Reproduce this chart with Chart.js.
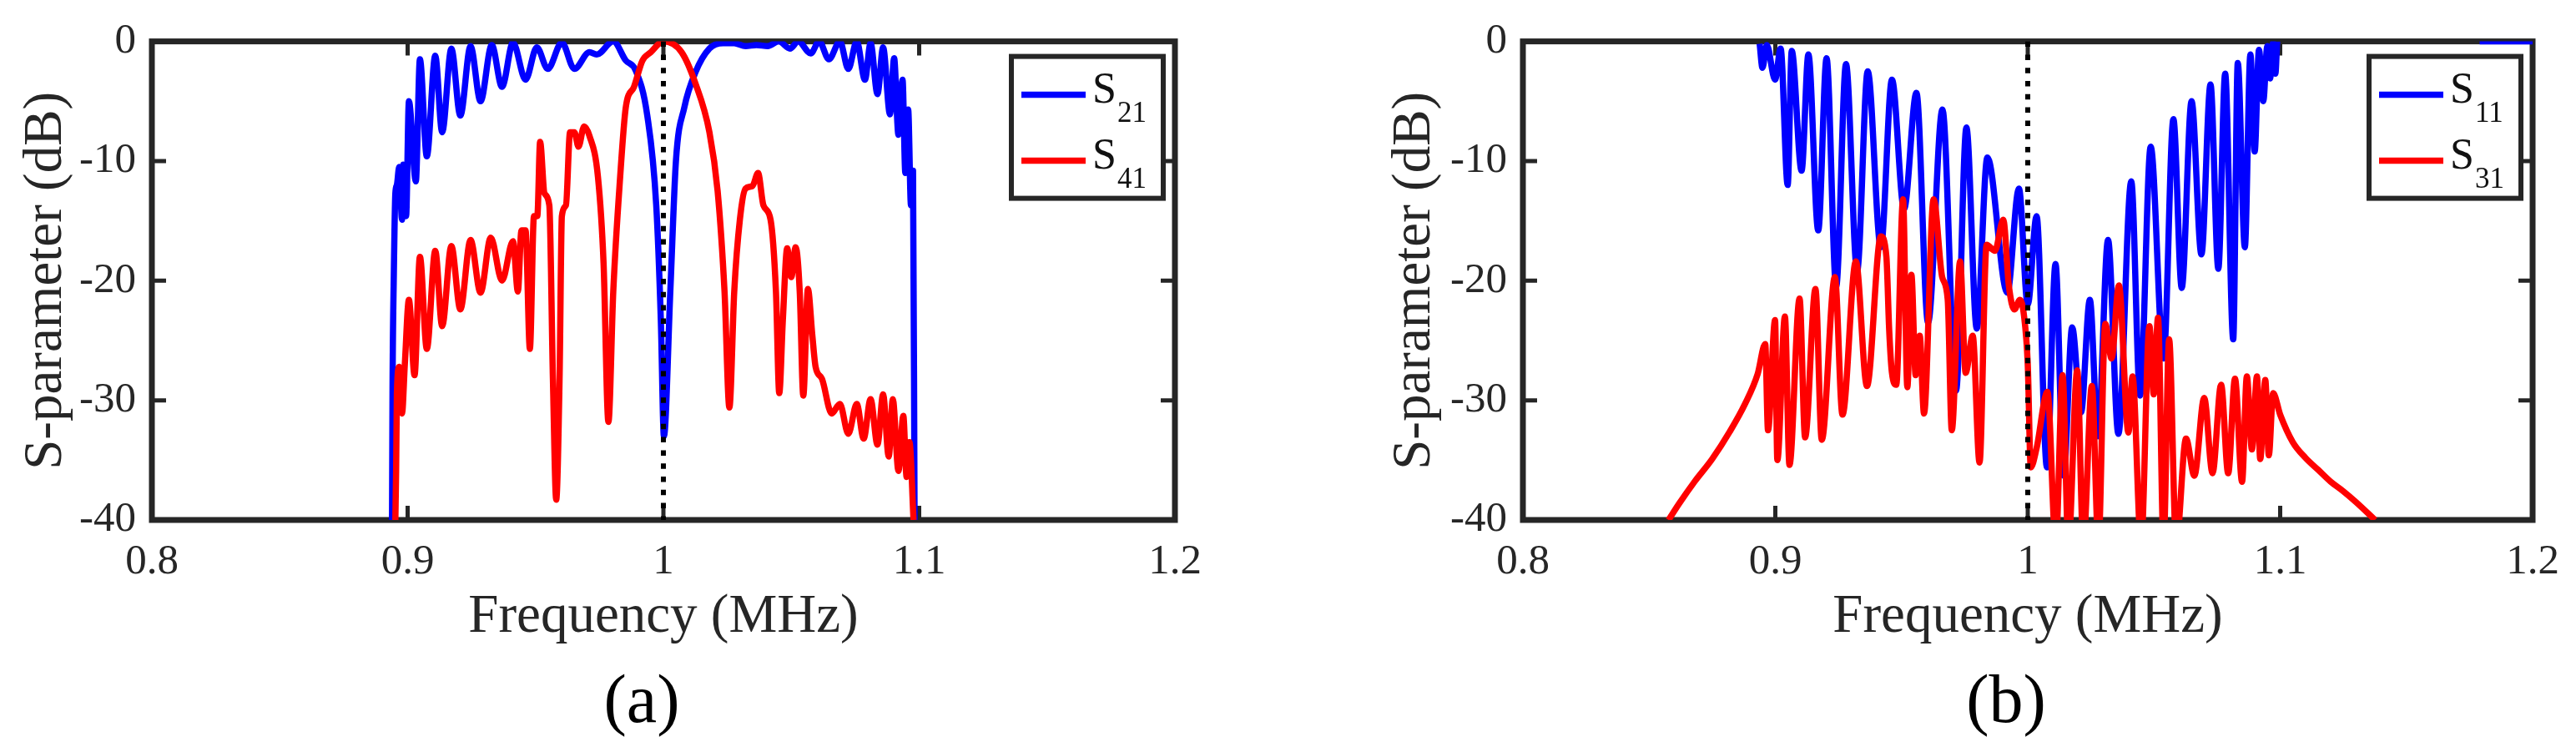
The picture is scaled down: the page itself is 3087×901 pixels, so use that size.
<!DOCTYPE html>
<html>
<head>
<meta charset="utf-8">
<title>S-parameters</title>
<script src="https://cdn.jsdelivr.net/npm/chart.js@4.4.0/dist/chart.umd.min.js"></script>
<style>
  html, body { margin: 0; padding: 0; background: #fff; }
  body { width: 3087px; height: 901px; position: relative; overflow: hidden; }
  canvas { position: absolute; top: 0; }
  .caption {
    position: absolute; top: 797px;
    font-family: 'Liberation Serif', serif; font-size: 82px; line-height: 1;
    color: #000; transform: translateX(-50%); white-space: nowrap;
  }
</style>
</head>
<body>
<canvas id="chartA" width="1543" height="901" style="left:0px"></canvas>
<canvas id="chartB" width="1544" height="901" style="left:1543px"></canvas>
<div class="caption" style="left:769px">(a)</div>
<div class="caption" style="left:2404px">(b)</div>

<script>
// ---- axes ----
const xTickValues = [0.8, 0.9, 1.0, 1.1, 1.2];
const xTickLabels = ['0.8', '0.9', '1', '1.1', '1.2'];
const yTickValues = [0, -10, -20, -30, -40];
const yTickLabels = ['0', '-10', '-20', '-30', '-40'];

// centre frequency marker (dotted line)
const markerFreq = [1.0, 1.0];
const markerLevel = [0, -40];

// ---- panel (a) ----
const freqA21 = [0.8939, 0.8941, 0.8946, 0.8952, 0.8958, 0.8967, 0.8978, 0.8983, 0.8994, 0.9005,
  0.9032, 0.9048, 0.9075, 0.9108, 0.9135, 0.9171, 0.9206, 0.9246, 0.9285, 0.9329,
  0.9369, 0.9412, 0.9461, 0.9505, 0.9548, 0.9603, 0.9652, 0.9711, 0.9739, 0.9804,
  0.9853, 0.9891, 0.9937, 0.9972, 0.9990, 1.0002, 1.0027, 1.0049, 1.0082, 1.0125,
  1.0180, 1.0234, 1.0277, 1.0321, 1.0364, 1.0408, 1.0451, 1.0495, 1.0527, 1.0576,
  1.0609, 1.0647, 1.0690, 1.0723, 1.0756, 1.0788, 1.0810, 1.0837, 1.0859, 1.0886,
  1.0902, 1.0919, 1.0935, 1.0946, 1.0957, 1.0968, 1.0976, 1.0982];
const s21 = [-40, -29, -19.5, -12.7, -12, -10.5, -14.9, -10.3, -14.6, -5.0,
  -11.7, -1.5, -9.6, -1.2, -7.6, -0.6, -6.2, -0.4, -5.0, -0.3,
  -3.8, -0.1, -3.2, -0.5, -2.3, -0.1, -2.3, -0.9, -1.1, 0,
  -1.6, -2.4, -6.2, -13.7, -23.3, -33.0, -20.9, -10.0, -5.5, -2.6,
  -0.6, -0.15, -0.15, -0.4, -0.3, -0.4, 0, -0.6, 0, -1.0,
  0, -1.5, 0, -2.3, 0, -3.2, -0.15, -4.4, -0.5, -6.1,
  -1.4, -7.8, -3.2, -11.0, -5.7, -13.7, -10.8, -40];

const freqA41 = [0.8952, 0.8955, 0.8958, 0.8967, 0.8978, 0.8989, 0.9005, 0.9027, 0.9048, 0.9075,
  0.9108, 0.9135, 0.9171, 0.9206, 0.9246, 0.9285, 0.9325, 0.9369, 0.9412, 0.9431,
  0.9445, 0.9461, 0.9478, 0.9494, 0.9507, 0.9518, 0.9535, 0.9554, 0.9568, 0.9581,
  0.9594, 0.9603, 0.9619, 0.9635, 0.9652, 0.9668, 0.9690, 0.9711, 0.9744, 0.9766,
  0.9785, 0.9804, 0.9831, 0.9853, 0.9885, 0.9918, 0.9951, 1.0000, 1.0071, 1.0125,
  1.0180, 1.0212, 1.0239, 1.0258, 1.0277, 1.0299, 1.0321, 1.0348, 1.0370, 1.0391,
  1.0419, 1.0440, 1.0453, 1.0467, 1.0484, 1.0500, 1.0517, 1.0533, 1.0547, 1.0565,
  1.0582, 1.0595, 1.0620, 1.0658, 1.0690, 1.0723, 1.0756, 1.0783, 1.0810, 1.0837,
  1.0859, 1.0881, 1.0897, 1.0919, 1.0938, 1.0951, 1.0962, 1.0978];
const s41 = [-40, -35.9, -29.4, -27.2, -31.1, -27.0, -21.6, -27.9, -18.0, -25.7,
  -17.5, -23.8, -17.1, -22.4, -16.6, -21.0, -16.4, -20.0, -16.7, -20.9,
  -15.8, -15.8, -25.7, -14.6, -14.6, -8.4, -12.7, -13.7, -28.2, -38.3,
  -28.2, -14.6, -13.7, -7.6, -7.6, -8.8, -7.1, -7.9, -11.3, -18.5,
  -31.8, -20.9, -11.3, -5.5, -3.8, -1.6, -0.9, 0, -0.9, -3.5,
  -7.6, -12.5, -20.9, -30.6, -20.9, -14.9, -12.3, -12.1, -11.0, -13.7,
  -14.9, -20.9, -29.4, -23.3, -17.3, -19.7, -17.2, -20.9, -29.6, -20.7,
  -24.5, -27.2, -28.2, -31.1, -30.3, -32.8, -30.3, -33.2, -29.9, -33.7,
  -29.5, -34.7, -29.9, -35.9, -31.3, -36.4, -33.5, -40];

// ---- panel (b) ----
const freqB11 = [0.8938, 0.8949, 0.8966, 0.8999, 0.9021, 0.9049, 0.9065, 0.9104, 0.9131, 0.9170,
  0.9203, 0.9241, 0.9280, 0.9324, 0.9366, 0.9418, 0.9462, 0.9510, 0.9559, 0.9605,
  0.9662, 0.9716, 0.9757, 0.9798, 0.9840, 0.9919, 0.9965, 1.0000, 1.0035, 1.0076,
  1.0110, 1.0142, 1.0176, 1.0211, 1.0246, 1.0278, 1.0318, 1.0359, 1.0410, 1.0445,
  1.0487, 1.0538, 1.0577, 1.0610, 1.0649, 1.0688, 1.0724, 1.0755, 1.0782, 1.0814,
  1.0832, 1.0860, 1.0882, 1.0899, 1.0916, 1.0933, 1.0949, 1.0960, 1.0972, 1.0981,
  1.0988, 1.1400, 1.1790, 1.2000];
const s11 = [-0.2, -2.2, -0.3, -3.2, -0.6, -12.0, -0.8, -10.8, -1.1, -15.8,
  -1.4, -20.5, -1.9, -19.2, -2.5, -17.2, -3.2, -14.0, -4.3, -23.5,
  -5.7, -29.2, -7.2, -24.0, -9.7, -21.0, -12.3, -22.0, -14.6, -35.6,
  -18.6, -36.3, -23.9, -31.0, -21.6, -33.0, -16.6, -32.8, -11.7, -29.6,
  -8.8, -26.5, -6.5, -20.6, -5.0, -17.8, -3.6, -19.0, -2.7, -24.9,
  -1.8, -17.2, -1.1, -9.2, -0.7, -5.0, -0.4, -3.1, -0.1, -2.7,
  0, null, 0, 0];

const freqB31 = [0.8577, 0.8620, 0.8680, 0.8750, 0.8820, 0.8880, 0.8930, 0.8960, 0.8971, 0.8999,
  0.9008, 0.9038, 0.9056, 0.9096, 0.9118, 0.9159, 0.9184, 0.9236, 0.9266, 0.9319,
  0.9363, 0.9418, 0.9440, 0.9451, 0.9462, 0.9479, 0.9506, 0.9523, 0.9539, 0.9556,
  0.9572, 0.9589, 0.9627, 0.9661, 0.9683, 0.9699, 0.9732, 0.9754, 0.9782, 0.9809,
  0.9837, 0.9870, 0.9903, 0.9925, 0.9947, 0.9969, 0.9985, 1.0000, 1.0012, 1.0035,
  1.0078, 1.0111, 1.0138, 1.0161, 1.0196, 1.0220, 1.0254, 1.0280, 1.0307, 1.0332,
  1.0361, 1.0399, 1.0415, 1.0449, 1.0482, 1.0499, 1.0516, 1.0538, 1.0560, 1.0588,
  1.0627, 1.0660, 1.0699, 1.0732, 1.0766, 1.0794, 1.0821, 1.0849, 1.0868, 1.0888,
  1.0908, 1.0921, 1.0941, 1.0955, 1.0972, 1.1000, 1.1050, 1.1100, 1.1150, 1.1200,
  1.1250, 1.1300, 1.1376];
const s31 = [-40, -38.6, -36.8, -34.9, -32.6, -30.3, -27.8, -25.3, -32.5, -23.3,
  -35.0, -23.0, -35.4, -21.5, -33.1, -20.7, -33.3, -19.7, -31.2, -18.4,
  -28.8, -16.3, -18.0, -24.1, -27.7, -28.7, -13.2, -28.9, -19.5, -27.9,
  -24.6, -31.1, -13.2, -19.7, -21.6, -32.5, -18.4, -27.7, -24.6, -35.2,
  -17.0, -17.5, -14.9, -20.4, -22.4, -21.6, -22.9, -27, -35.6, -34,
  -29.3, -42, -27.9, -42, -27.5, -42, -28.8, -42, -23.6, -26.5,
  -20.4, -32.7, -28, -42, -23.8, -29.5, -23.1, -42, -24.9, -42,
  -33.2, -36.3, -29.8, -36.1, -28.7, -36.1, -28.2, -36.8, -28.0, -34.1,
  -28.0, -34.9, -28.3, -34.6, -29.4, -31.2, -33.5, -34.8, -35.8, -36.8,
  -37.6, -38.5, -40];

const AXIS_COLOR = '#262626';
const FONT = "'Liberation Serif', 'Times New Roman', serif";

function zip(fs, vals) {
  return fs.map((f, i) => ({ x: f, y: vals[i] }));
}

// box with inward ticks on all four sides (matlab style)
const boxFrame = {
  id: 'boxFrame',
  beforeDatasetsDraw(chart) {
    const { ctx, chartArea: a, scales: { x, y } } = chart;
    ctx.save();
    ctx.strokeStyle = AXIS_COLOR;
    ctx.lineWidth = 5;
    ctx.beginPath();
    xTickValues.forEach(v => {
      const px = x.getPixelForValue(v);
      ctx.moveTo(px, a.bottom); ctx.lineTo(px, a.bottom - 17);
      ctx.moveTo(px, a.top); ctx.lineTo(px, a.top + 17);
    });
    yTickValues.forEach(v => {
      const py = y.getPixelForValue(v);
      ctx.moveTo(a.left, py); ctx.lineTo(a.left + 17, py);
      ctx.moveTo(a.right, py); ctx.lineTo(a.right - 17, py);
    });
    ctx.stroke();
    ctx.lineWidth = 7;
    ctx.strokeRect(a.left, a.top, a.right - a.left, a.bottom - a.top);
    ctx.restore();
  }
};

// legend with subscripts: "S" + index
const subLegend = {
  id: 'subLegend',
  afterDatasetsDraw(chart, args, opts) {
    const { ctx, chartArea: a } = chart;
    const w = 182, h = 170;
    const left = a.right - 14 - w, top = a.top + 18;
    ctx.save();
    ctx.fillStyle = '#fff';
    ctx.fillRect(left, top, w, h);
    ctx.lineWidth = 6;
    ctx.strokeStyle = AXIS_COLOR;
    ctx.strokeRect(left, top, w, h);
    opts.items.forEach((idx, i) => {
      const ds = chart.data.datasets[idx];
      const rowY = top + 46 + i * 79;
      ctx.strokeStyle = ds.borderColor;
      ctx.lineWidth = ds.borderWidth;
      ctx.beginPath();
      ctx.moveTo(left + 12, rowY);
      ctx.lineTo(left + 89, rowY);
      ctx.stroke();
      ctx.fillStyle = '#111';
      ctx.textAlign = 'left';
      ctx.textBaseline = 'alphabetic';
      ctx.font = '52px ' + FONT;
      ctx.fillText(ds.label.charAt(0), left + 97, rowY + 9);
      ctx.font = '35px ' + FONT;
      ctx.fillText(ds.label.slice(1), left + 127, rowY + 32);
    });
    ctx.restore();
  }
};

function makePanel(id, p) {
  const lineDefaults = {
    showLine: true, pointRadius: 0, borderWidth: 7.5,
    cubicInterpolationMode: 'monotone', borderJoinStyle: 'round', spanGaps: false
  };
  return new Chart(document.getElementById(id), {
    type: 'scatter',
    data: {
      datasets: [
        Object.assign({}, lineDefaults, { label: p.blueLabel, data: zip(p.blueF, p.blueV), borderColor: '#0000ff', order: 3 }),
        Object.assign({}, lineDefaults, { label: p.redLabel, data: zip(p.redF, p.redV), borderColor: '#ff0000', order: 2 }),
        { label: 'f0', data: zip(markerFreq, markerLevel), showLine: true, pointRadius: 0,
          borderColor: '#000', borderWidth: 6, borderDash: [6.5, 9.3], order: 1 }
      ]
    },
    options: {
      responsive: false,
      animation: false,
      events: [],
      layout: { padding: { top: 42, right: p.padRight, left: 0, bottom: 0 } },
      plugins: {
        legend: { display: false },
        tooltip: { enabled: false },
        subLegend: { items: [0, 1] }
      },
      scales: {
        x: {
          type: 'linear', min: 0.8, max: 1.2,
          afterBuildTicks: s => { s.ticks = xTickValues.map(v => ({ value: v })); },
          afterFit: s => { s.height = 278; },
          grid: { display: false, drawTicks: false },
          border: { display: false },
          ticks: {
            padding: 20, maxRotation: 0, autoSkip: false, color: AXIS_COLOR,
            font: { family: FONT, size: 51 },
            callback: (v, i) => xTickLabels[i]
          },
          title: {
            display: true, text: 'Frequency (MHz)', color: AXIS_COLOR,
            font: { family: FONT, size: 65 }, padding: { top: 0, bottom: 122 }
          }
        },
        y: {
          type: 'linear', min: -40, max: 0,
          afterBuildTicks: s => { s.ticks = yTickValues.map(v => ({ value: v })); },
          afterFit: s => { s.width = p.yWidth; },
          grid: { display: false, drawTicks: false },
          border: { display: false },
          ticks: {
            padding: 19, color: AXIS_COLOR,
            font: { family: FONT, size: 51 },
            callback: (v, i) => yTickLabels[i]
          },
          title: {
            display: true, text: 'S-parameter (dB)', color: AXIS_COLOR,
            font: { family: FONT, size: 65 }, padding: { top: p.yTitlePad, bottom: 0 }
          }
        }
      }
    },
    plugins: [boxFrame, subLegend]
  });
}

makePanel('chartA', {
  blueLabel: 'S21', blueF: freqA21, blueV: s21,
  redLabel: 'S41', redF: freqA41, redV: s41,
  yWidth: 182, padRight: 135, yTitlePad: 17
});

makePanel('chartB', {
  blueLabel: 'S11', blueF: freqB11, blueV: s11,
  redLabel: 'S31', redF: freqB31, redV: s31,
  yWidth: 282, padRight: 52, yTitlePad: 114
});
</script>
</body>
</html>
